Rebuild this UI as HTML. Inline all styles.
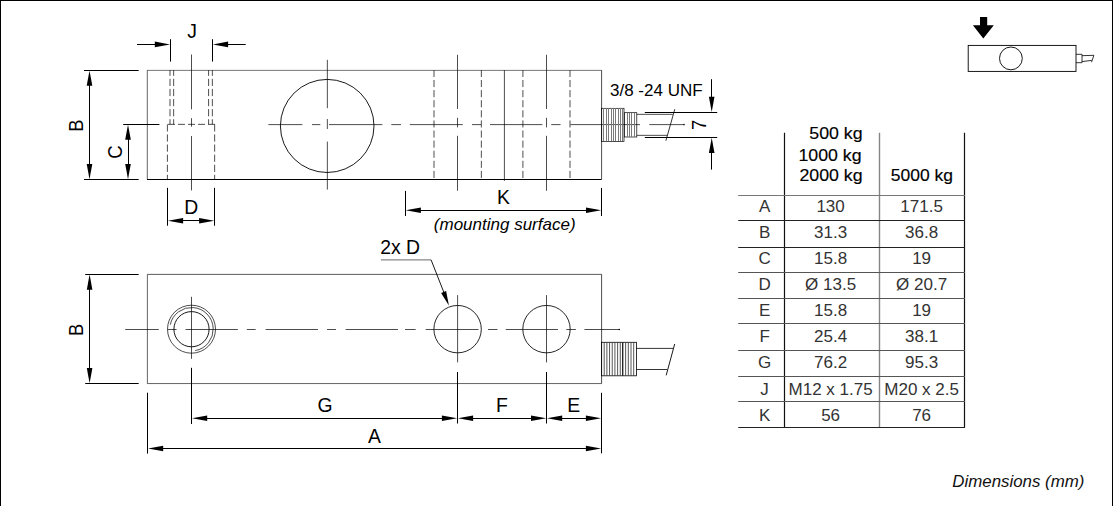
<!DOCTYPE html>
<html lang="en">
<head>
<meta charset="utf-8">
<title>Load cell dimensions</title>
<style>
html,body{margin:0;padding:0;background:#fff;}
body{width:1113px;height:506px;overflow:hidden;}
svg{display:block;font-family:"Liberation Sans",Arial,Helvetica,sans-serif;}
</style>
</head>
<body>
<svg width="1113" height="506" viewBox="0 0 1113 506">
<rect x="0" y="0" width="1113" height="1" fill="#000"/>
<rect x="0" y="0" width="1" height="506" fill="#000"/>
<rect x="1112" y="0" width="1" height="506" fill="#000"/>
<line x1="147.0" y1="70.4" x2="601.6" y2="70.4" stroke="#555" stroke-width="0.8"/>
<line x1="147.3" y1="70.2" x2="147.3" y2="179.4" stroke="#555" stroke-width="0.9"/>
<line x1="601.6" y1="70.2" x2="601.6" y2="179.4" stroke="#000" stroke-width="0.7"/>
<line x1="147.0" y1="179.5" x2="601.6" y2="179.5" stroke="#000" stroke-width="1.0"/>
<line x1="170.0" y1="70.2" x2="170.0" y2="124.3" stroke="#000" stroke-width="0.7" stroke-dasharray="7.2 2.9" stroke-dashoffset="1.5"/>
<line x1="173.65" y1="70.2" x2="173.65" y2="124.3" stroke="#000" stroke-width="0.7" stroke-dasharray="7.2 2.9" stroke-dashoffset="1.5"/>
<line x1="208.6" y1="70.2" x2="208.6" y2="124.3" stroke="#000" stroke-width="0.7" stroke-dasharray="7.2 2.9" stroke-dashoffset="1.5"/>
<line x1="212.35" y1="70.2" x2="212.35" y2="124.3" stroke="#000" stroke-width="0.7" stroke-dasharray="7.2 2.9" stroke-dashoffset="1.5"/>
<line x1="167.4" y1="124.3" x2="167.4" y2="179.4" stroke="#000" stroke-width="0.7" stroke-dasharray="7.2 2.9"/>
<line x1="214.65" y1="124.3" x2="214.65" y2="179.4" stroke="#000" stroke-width="0.7" stroke-dasharray="7.2 2.9"/>
<line x1="167.4" y1="124.35" x2="214.8" y2="124.35" stroke="#000" stroke-width="0.7" stroke-dasharray="7.0 3.0" stroke-dashoffset="9.4"/>
<line x1="191.5" y1="54.5" x2="191.5" y2="109.3" stroke="#000" stroke-width="0.7"/>
<line x1="191.5" y1="118.2" x2="191.5" y2="126.7" stroke="#000" stroke-width="0.7"/>
<line x1="191.5" y1="136.0" x2="191.5" y2="190.4" stroke="#000" stroke-width="0.7"/>
<ellipse cx="327.2" cy="125.95" rx="46.8" ry="46.55" fill="none" stroke="#000" stroke-width="0.9"/>
<line x1="327.35" y1="59.8" x2="327.35" y2="108.2" stroke="#000" stroke-width="0.7"/>
<line x1="327.35" y1="119" x2="327.35" y2="129" stroke="#000" stroke-width="0.7"/>
<line x1="327.35" y1="141.6" x2="327.35" y2="189.6" stroke="#000" stroke-width="0.7"/>
<line x1="268.4" y1="124.6" x2="302.4" y2="124.6" stroke="#000" stroke-width="0.7"/>
<line x1="312" y1="124.6" x2="320.3" y2="124.6" stroke="#000" stroke-width="0.7"/>
<line x1="329" y1="124.6" x2="382.4" y2="124.6" stroke="#000" stroke-width="0.7"/>
<line x1="391.3" y1="124.6" x2="401" y2="124.6" stroke="#000" stroke-width="0.7"/>
<line x1="409.8" y1="124.6" x2="462.8" y2="124.6" stroke="#000" stroke-width="0.7"/>
<line x1="472" y1="124.6" x2="481" y2="124.6" stroke="#000" stroke-width="0.7"/>
<line x1="490" y1="124.6" x2="542.4" y2="124.6" stroke="#000" stroke-width="0.7"/>
<line x1="551.2" y1="124.6" x2="560.5" y2="124.6" stroke="#000" stroke-width="0.7"/>
<line x1="570.4" y1="124.6" x2="640" y2="124.6" stroke="#000" stroke-width="0.7"/>
<line x1="649.3" y1="124.6" x2="683.6" y2="124.6" stroke="#000" stroke-width="0.7"/>
<line x1="434.0" y1="70.2" x2="434.0" y2="179.4" stroke="#000" stroke-width="0.7" stroke-dasharray="7.1 3.0" stroke-dashoffset="0.3"/>
<line x1="481.35" y1="70.2" x2="481.35" y2="179.4" stroke="#000" stroke-width="0.7" stroke-dasharray="7.1 3.0" stroke-dashoffset="0.3"/>
<line x1="522.9" y1="70.2" x2="522.9" y2="179.4" stroke="#000" stroke-width="0.7" stroke-dasharray="7.1 3.0" stroke-dashoffset="0.3"/>
<line x1="570.0" y1="70.2" x2="570.0" y2="179.4" stroke="#000" stroke-width="0.7" stroke-dasharray="7.1 3.0" stroke-dashoffset="0.3"/>
<line x1="504.4" y1="70.2" x2="504.4" y2="180.8" stroke="#000" stroke-width="0.7"/>
<line x1="457.5" y1="54.8" x2="457.5" y2="109.0" stroke="#000" stroke-width="0.7"/>
<line x1="457.5" y1="117.8" x2="457.5" y2="127.4" stroke="#000" stroke-width="0.7"/>
<line x1="457.5" y1="135.8" x2="457.5" y2="190.8" stroke="#000" stroke-width="0.7"/>
<line x1="546.5" y1="54.8" x2="546.5" y2="109.0" stroke="#000" stroke-width="0.7"/>
<line x1="546.5" y1="117.8" x2="546.5" y2="127.4" stroke="#000" stroke-width="0.7"/>
<line x1="546.5" y1="135.8" x2="546.5" y2="190.8" stroke="#000" stroke-width="0.7"/>
<circle cx="684.0" cy="124.6" r="0.8" fill="#000"/>
<rect x="601.6" y="108.3" width="22.40" height="33.10" fill="none" stroke="#000" stroke-width="0.7"/>
<line x1="603.5" y1="108.3" x2="603.5" y2="141.4" stroke="#7a7a7a" stroke-width="1" shape-rendering="crispEdges"/>
<line x1="606.5" y1="108.3" x2="606.5" y2="141.4" stroke="#7a7a7a" stroke-width="1" shape-rendering="crispEdges"/>
<line x1="608.5" y1="108.3" x2="608.5" y2="141.4" stroke="#7a7a7a" stroke-width="1" shape-rendering="crispEdges"/>
<line x1="611.5" y1="108.3" x2="611.5" y2="141.4" stroke="#7a7a7a" stroke-width="1" shape-rendering="crispEdges"/>
<line x1="613.5" y1="108.3" x2="613.5" y2="141.4" stroke="#7a7a7a" stroke-width="1" shape-rendering="crispEdges"/>
<line x1="615.5" y1="108.3" x2="615.5" y2="141.4" stroke="#7a7a7a" stroke-width="1" shape-rendering="crispEdges"/>
<line x1="618.5" y1="108.3" x2="618.5" y2="141.4" stroke="#7a7a7a" stroke-width="1" shape-rendering="crispEdges"/>
<line x1="620.5" y1="108.3" x2="620.5" y2="141.4" stroke="#7a7a7a" stroke-width="1" shape-rendering="crispEdges"/>
<line x1="622.5" y1="108.3" x2="622.5" y2="141.4" stroke="#7a7a7a" stroke-width="1" shape-rendering="crispEdges"/>
<rect x="624.6" y="112.7" width="12.20" height="24.30" fill="none" stroke="#000" stroke-width="0.7"/>
<line x1="627.5" y1="112.7" x2="627.5" y2="137.0" stroke="#7a7a7a" stroke-width="1" shape-rendering="crispEdges"/>
<line x1="629.5" y1="112.7" x2="629.5" y2="137.0" stroke="#7a7a7a" stroke-width="1" shape-rendering="crispEdges"/>
<line x1="631.5" y1="112.7" x2="631.5" y2="137.0" stroke="#7a7a7a" stroke-width="1" shape-rendering="crispEdges"/>
<line x1="634.5" y1="112.7" x2="634.5" y2="137.0" stroke="#7a7a7a" stroke-width="1" shape-rendering="crispEdges"/>
<line x1="636.8" y1="114.35" x2="672.8" y2="114.35" stroke="#000" stroke-width="0.7"/>
<line x1="636.8" y1="135.35" x2="667.4" y2="135.35" stroke="#000" stroke-width="0.7"/>
<line x1="674.8" y1="109.2" x2="665.9" y2="140.7" stroke="#000" stroke-width="0.8"/>
<line x1="644.8" y1="112.5" x2="717.2" y2="112.5" stroke="#000" stroke-width="1.05"/>
<line x1="644.8" y1="137.5" x2="717.2" y2="137.5" stroke="#000" stroke-width="1.05"/>
<line x1="711.5" y1="79.2" x2="711.5" y2="100" stroke="#000" stroke-width="1.05"/>
<polygon points="711.70,112.00 708.90,96.80 714.50,96.80" fill="#000"/>
<line x1="711.5" y1="150" x2="711.5" y2="169.6" stroke="#000" stroke-width="1.05"/>
<polygon points="711.70,137.70 714.50,152.90 708.90,152.90" fill="#000"/>
<text transform="translate(705.6 124.9) rotate(-90) scale(0.93 1)" text-anchor="middle" font-size="19.9" fill="#000">7</text>
<text transform="translate(610.0 96.0)" text-anchor="start" font-size="17" fill="#000">3/8 -24 UNF</text>
<line x1="170.5" y1="39.2" x2="170.5" y2="61.6" stroke="#000" stroke-width="1.05"/>
<line x1="212.5" y1="39.2" x2="212.5" y2="61.6" stroke="#000" stroke-width="1.05"/>
<line x1="137" y1="44.5" x2="157" y2="44.5" stroke="#000" stroke-width="1.05"/>
<polygon points="170.00,44.40 154.80,47.20 154.80,41.60" fill="#000"/>
<line x1="226" y1="44.5" x2="245.7" y2="44.5" stroke="#000" stroke-width="1.05"/>
<polygon points="212.90,44.40 228.10,41.60 228.10,47.20" fill="#000"/>
<text transform="translate(192.1 37.7) scale(0.955 1)" text-anchor="middle" font-size="20.3" fill="#000">J</text>
<line x1="84" y1="70.5" x2="138.7" y2="70.5" stroke="#000" stroke-width="1.05"/>
<line x1="84" y1="179.5" x2="138.7" y2="179.5" stroke="#000" stroke-width="1.05"/>
<line x1="89.5" y1="84" x2="89.5" y2="166" stroke="#000" stroke-width="1.05"/>
<polygon points="89.50,70.60 92.30,85.80 86.70,85.80" fill="#000"/>
<polygon points="89.50,179.20 86.70,164.00 92.30,164.00" fill="#000"/>
<text transform="translate(83.4 125.5) rotate(-90) scale(0.93 1)" text-anchor="middle" font-size="19.9" fill="#000">B</text>
<line x1="123.2" y1="124.5" x2="159.4" y2="124.5" stroke="#000" stroke-width="1.05"/>
<line x1="128.5" y1="138" x2="128.5" y2="166" stroke="#000" stroke-width="1.05"/>
<polygon points="128.00,124.60 130.80,139.80 125.20,139.80" fill="#000"/>
<polygon points="128.00,179.20 125.20,164.00 130.80,164.00" fill="#000"/>
<text transform="translate(121.6 152.1) rotate(-90) scale(0.93 1)" text-anchor="middle" font-size="19.9" fill="#000">C</text>
<line x1="167.5" y1="187.8" x2="167.5" y2="225.7" stroke="#000" stroke-width="1.05"/>
<line x1="214.5" y1="187.8" x2="214.5" y2="225.7" stroke="#000" stroke-width="1.05"/>
<line x1="180" y1="220.5" x2="202" y2="220.5" stroke="#000" stroke-width="1.05"/>
<polygon points="167.90,220.80 183.10,218.00 183.10,223.60" fill="#000"/>
<polygon points="214.30,220.80 199.10,223.60 199.10,218.00" fill="#000"/>
<text transform="translate(191.3 213.9) scale(0.955 1)" text-anchor="middle" font-size="20.3" fill="#000">D</text>
<line x1="405.5" y1="190.9" x2="405.5" y2="216" stroke="#000" stroke-width="1.05"/>
<line x1="601.5" y1="187.9" x2="601.5" y2="216" stroke="#000" stroke-width="1.05"/>
<line x1="418" y1="210.5" x2="589" y2="210.5" stroke="#000" stroke-width="1.05"/>
<polygon points="405.70,210.20 420.90,207.40 420.90,213.00" fill="#000"/>
<polygon points="601.20,210.20 586.00,213.00 586.00,207.40" fill="#000"/>
<text transform="translate(503.4 204.0) scale(0.955 1)" text-anchor="middle" font-size="20.3" fill="#000">K</text>
<text transform="translate(504.7 229.6)" text-anchor="middle" font-size="17" font-style="italic" fill="#000">(mounting surface)</text>
<line x1="147.3" y1="274.4" x2="601.6" y2="274.4" stroke="#333" stroke-width="0.8"/>
<line x1="147.4" y1="274.3" x2="147.4" y2="383.8" stroke="#555" stroke-width="0.9"/>
<line x1="601.6" y1="274.3" x2="601.6" y2="383.8" stroke="#000" stroke-width="0.7"/>
<line x1="147.3" y1="383.55" x2="601.6" y2="383.55" stroke="#555" stroke-width="0.9"/>
<circle cx="191.5" cy="329.2" r="24.0" fill="none" stroke="#000" stroke-width="0.7"/>
<circle cx="191.5" cy="329.2" r="17.6" fill="none" stroke="#000" stroke-width="0.9"/>
<path d="M170.27,324.69 A21.7,21.7 0 1 1 195.27,350.57" fill="none" stroke="#000" stroke-width="0.7"/>
<line x1="191.5" y1="296.8" x2="191.5" y2="358.8" stroke="#000" stroke-width="0.7"/>
<circle cx="457.6" cy="329.15" r="23.7" fill="none" stroke="#000" stroke-width="0.85"/>
<line x1="457.6" y1="295.1" x2="457.6" y2="362.4" stroke="#000" stroke-width="0.7"/>
<circle cx="546.5" cy="329.15" r="23.7" fill="none" stroke="#000" stroke-width="0.85"/>
<line x1="546.5" y1="295.1" x2="546.5" y2="362.4" stroke="#000" stroke-width="0.7"/>
<line x1="125.2" y1="329.5" x2="158.8" y2="329.5" stroke="#000" stroke-width="0.7"/>
<line x1="167.7" y1="329.5" x2="176.6" y2="329.5" stroke="#000" stroke-width="0.7"/>
<line x1="185.5" y1="329.5" x2="237.9" y2="329.5" stroke="#000" stroke-width="0.7"/>
<line x1="246.8" y1="329.5" x2="255.7" y2="329.5" stroke="#000" stroke-width="0.7"/>
<line x1="265.6" y1="329.5" x2="318" y2="329.5" stroke="#000" stroke-width="0.7"/>
<line x1="327" y1="329.5" x2="336" y2="329.5" stroke="#000" stroke-width="0.7"/>
<line x1="345.6" y1="329.5" x2="398" y2="329.5" stroke="#000" stroke-width="0.7"/>
<line x1="405" y1="329.5" x2="415.7" y2="329.5" stroke="#000" stroke-width="0.7"/>
<line x1="425.7" y1="329.5" x2="478.5" y2="329.5" stroke="#000" stroke-width="0.7"/>
<line x1="488" y1="329.5" x2="497.5" y2="329.5" stroke="#000" stroke-width="0.7"/>
<line x1="505.8" y1="329.5" x2="558" y2="329.5" stroke="#000" stroke-width="0.7"/>
<line x1="566.3" y1="329.5" x2="575.9" y2="329.5" stroke="#000" stroke-width="0.7"/>
<line x1="584.4" y1="329.5" x2="619.2" y2="329.5" stroke="#000" stroke-width="0.7"/>
<circle cx="619.2" cy="329.5" r="0.8" fill="#000"/>
<rect x="601.6" y="342.3" width="34.90" height="33.50" fill="none" stroke="#000" stroke-width="0.8"/>
<line x1="604.2" y1="342.3" x2="604.2" y2="375.8" stroke="#3a3a3a" stroke-width="0.85"/>
<line x1="606.88" y1="342.3" x2="606.88" y2="375.8" stroke="#3a3a3a" stroke-width="0.85"/>
<line x1="609.56" y1="342.3" x2="609.56" y2="375.8" stroke="#3a3a3a" stroke-width="0.85"/>
<line x1="612.24" y1="342.3" x2="612.24" y2="375.8" stroke="#3a3a3a" stroke-width="0.85"/>
<line x1="614.92" y1="342.3" x2="614.92" y2="375.8" stroke="#3a3a3a" stroke-width="0.85"/>
<line x1="617.6" y1="342.3" x2="617.6" y2="375.8" stroke="#3a3a3a" stroke-width="0.85"/>
<line x1="620.28" y1="342.3" x2="620.28" y2="375.8" stroke="#3a3a3a" stroke-width="0.85"/>
<line x1="622.96" y1="342.3" x2="622.96" y2="375.8" stroke="#3a3a3a" stroke-width="0.85"/>
<line x1="625.64" y1="342.3" x2="625.64" y2="375.8" stroke="#3a3a3a" stroke-width="0.85"/>
<line x1="628.32" y1="342.3" x2="628.32" y2="375.8" stroke="#3a3a3a" stroke-width="0.85"/>
<line x1="631.0" y1="342.3" x2="631.0" y2="375.8" stroke="#3a3a3a" stroke-width="0.85"/>
<line x1="633.68" y1="342.3" x2="633.68" y2="375.8" stroke="#3a3a3a" stroke-width="0.85"/>
<line x1="622.55" y1="342.3" x2="622.55" y2="375.8" stroke="#111" stroke-width="0.9"/>
<line x1="636.5" y1="348.4" x2="673" y2="348.4" stroke="#000" stroke-width="0.8"/>
<line x1="636.5" y1="369.5" x2="667.2" y2="369.5" stroke="#000" stroke-width="0.8"/>
<line x1="674.7" y1="344.0" x2="666.2" y2="375.3" stroke="#000" stroke-width="0.9"/>
<text transform="translate(380.2 253.6) scale(0.955 1)" text-anchor="start" font-size="20.3" fill="#000">2x D</text>
<line x1="380.9" y1="259.9" x2="431.1" y2="259.9" stroke="#444" stroke-width="0.8"/>
<line x1="431.1" y1="259.9" x2="445.5" y2="296.5" stroke="#000" stroke-width="0.9"/>
<polygon points="448.90,305.40 441.10,292.88 446.13,290.91" fill="#000"/>
<line x1="85.2" y1="274.5" x2="138.7" y2="274.5" stroke="#000" stroke-width="1.05"/>
<line x1="85.2" y1="383.5" x2="138.7" y2="383.5" stroke="#000" stroke-width="1.05"/>
<line x1="89.5" y1="288" x2="89.5" y2="370" stroke="#000" stroke-width="1.05"/>
<polygon points="89.60,274.50 92.40,289.70 86.80,289.70" fill="#000"/>
<polygon points="89.60,383.30 86.80,368.10 92.40,368.10" fill="#000"/>
<text transform="translate(83.4 329.8) rotate(-90) scale(0.93 1)" text-anchor="middle" font-size="19.9" fill="#000">B</text>
<line x1="191.5" y1="367.8" x2="191.5" y2="424" stroke="#000" stroke-width="1.05"/>
<line x1="457.5" y1="372" x2="457.5" y2="423.5" stroke="#000" stroke-width="1.05"/>
<line x1="546.5" y1="372" x2="546.5" y2="423.5" stroke="#000" stroke-width="1.05"/>
<line x1="601.5" y1="392.8" x2="601.5" y2="453.3" stroke="#000" stroke-width="1.05"/>
<line x1="147.5" y1="392.7" x2="147.5" y2="453.6" stroke="#000" stroke-width="1.05"/>
<line x1="205" y1="418.5" x2="444" y2="418.5" stroke="#000" stroke-width="1.05"/>
<polygon points="192.00,418.20 207.20,415.40 207.20,421.00" fill="#000"/>
<polygon points="457.10,418.20 441.90,421.00 441.90,415.40" fill="#000"/>
<line x1="470" y1="418.5" x2="534" y2="418.5" stroke="#000" stroke-width="1.05"/>
<polygon points="457.90,418.20 473.10,415.40 473.10,421.00" fill="#000"/>
<polygon points="546.20,418.20 531.00,421.00 531.00,415.40" fill="#000"/>
<line x1="559" y1="418.5" x2="589" y2="418.5" stroke="#000" stroke-width="1.05"/>
<polygon points="547.00,418.20 562.20,415.40 562.20,421.00" fill="#000"/>
<polygon points="601.10,418.20 585.90,421.00 585.90,415.40" fill="#000"/>
<line x1="160" y1="448.5" x2="589" y2="448.5" stroke="#000" stroke-width="1.05"/>
<polygon points="148.00,448.50 163.20,445.70 163.20,451.30" fill="#000"/>
<polygon points="601.10,448.50 585.90,451.30 585.90,445.70" fill="#000"/>
<text transform="translate(325.0 411.6) scale(0.955 1)" text-anchor="middle" font-size="20.3" fill="#000">G</text>
<text transform="translate(502.0 411.6) scale(0.955 1)" text-anchor="middle" font-size="20.3" fill="#000">F</text>
<text transform="translate(573.8 411.6) scale(0.955 1)" text-anchor="middle" font-size="20.3" fill="#000">E</text>
<text transform="translate(374.4 443.0) scale(0.955 1)" text-anchor="middle" font-size="20.3" fill="#000">A</text>
<line x1="784.5" y1="132.8" x2="784.5" y2="427.7" stroke="#111" stroke-width="1.2"/>
<line x1="879.5" y1="132.8" x2="879.5" y2="427.2" stroke="#858585" stroke-width="1.4"/>
<line x1="964.5" y1="132.8" x2="964.5" y2="427.7" stroke="#111" stroke-width="1.2"/>
<line x1="738.2" y1="195.5" x2="965" y2="195.5" stroke="#777" stroke-width="1.15"/>
<line x1="738.2" y1="220.5" x2="965" y2="220.5" stroke="#222" stroke-width="1.15"/>
<line x1="738.2" y1="247.5" x2="965" y2="247.5" stroke="#222" stroke-width="1.15"/>
<line x1="738.2" y1="272.5" x2="965" y2="272.5" stroke="#555" stroke-width="1.15"/>
<line x1="738.2" y1="298.5" x2="965" y2="298.5" stroke="#555" stroke-width="1.15"/>
<line x1="738.2" y1="323.5" x2="965" y2="323.5" stroke="#555" stroke-width="1.15"/>
<line x1="738.2" y1="350.5" x2="965" y2="350.5" stroke="#555" stroke-width="1.15"/>
<line x1="738.2" y1="376.5" x2="965" y2="376.5" stroke="#555" stroke-width="1.15"/>
<line x1="738.2" y1="401.5" x2="965" y2="401.5" stroke="#555" stroke-width="1.15"/>
<line x1="738.2" y1="427.5" x2="965" y2="427.5" stroke="#222" stroke-width="1.15"/>
<text transform="translate(764.6 211.7)" text-anchor="middle" font-size="17" fill="#333">A</text>
<text transform="translate(830.6 211.7)" text-anchor="middle" font-size="17" fill="#333">130</text>
<text transform="translate(921.6 211.7)" text-anchor="middle" font-size="17" fill="#333">171.5</text>
<text transform="translate(764.6 237.8)" text-anchor="middle" font-size="17" fill="#333">B</text>
<text transform="translate(830.6 237.8)" text-anchor="middle" font-size="17" fill="#333">31.3</text>
<text transform="translate(921.6 237.8)" text-anchor="middle" font-size="17" fill="#333">36.8</text>
<text transform="translate(764.6 263.9)" text-anchor="middle" font-size="17" fill="#333">C</text>
<text transform="translate(830.6 263.9)" text-anchor="middle" font-size="17" fill="#333">15.8</text>
<text transform="translate(921.6 263.9)" text-anchor="middle" font-size="17" fill="#333">19</text>
<text transform="translate(764.6 290.0)" text-anchor="middle" font-size="17" fill="#333">D</text>
<text transform="translate(830.6 290.0)" text-anchor="middle" font-size="17" fill="#333">Ø 13.5</text>
<text transform="translate(921.6 290.0)" text-anchor="middle" font-size="17" fill="#333">Ø 20.7</text>
<text transform="translate(764.6 316.1)" text-anchor="middle" font-size="17" fill="#333">E</text>
<text transform="translate(830.6 316.1)" text-anchor="middle" font-size="17" fill="#333">15.8</text>
<text transform="translate(921.6 316.1)" text-anchor="middle" font-size="17" fill="#333">19</text>
<text transform="translate(764.6 342.2)" text-anchor="middle" font-size="17" fill="#333">F</text>
<text transform="translate(830.6 342.2)" text-anchor="middle" font-size="17" fill="#333">25.4</text>
<text transform="translate(921.6 342.2)" text-anchor="middle" font-size="17" fill="#333">38.1</text>
<text transform="translate(764.6 368.4)" text-anchor="middle" font-size="17" fill="#333">G</text>
<text transform="translate(830.6 368.4)" text-anchor="middle" font-size="17" fill="#333">76.2</text>
<text transform="translate(921.6 368.4)" text-anchor="middle" font-size="17" fill="#333">95.3</text>
<text transform="translate(764.6 394.5)" text-anchor="middle" font-size="17" fill="#333">J</text>
<text transform="translate(830.6 394.5)" text-anchor="middle" font-size="17" fill="#333">M12 x 1.75</text>
<text transform="translate(921.6 394.5)" text-anchor="middle" font-size="17" fill="#333">M20 x 2.5</text>
<text transform="translate(764.6 420.6)" text-anchor="middle" font-size="17" fill="#333">K</text>
<text transform="translate(830.6 420.6)" text-anchor="middle" font-size="17" fill="#333">56</text>
<text transform="translate(921.6 420.6)" text-anchor="middle" font-size="17" fill="#333">76</text>
<text transform="translate(862.6 138.9) scale(1.045 1)" text-anchor="end" font-size="17" fill="#000" stroke="#000" stroke-width="0.15">500 kg</text>
<text transform="translate(861.6 160.6) scale(1.045 1)" text-anchor="end" font-size="17" fill="#000" stroke="#000" stroke-width="0.15">1000 kg</text>
<text transform="translate(862.6 181.1) scale(1.045 1)" text-anchor="end" font-size="17" fill="#000" stroke="#000" stroke-width="0.15">2000 kg</text>
<text transform="translate(953.0 181.1) scale(1.03 1)" text-anchor="end" font-size="17" fill="#000" stroke="#000" stroke-width="0.15">5000 kg</text>
<polygon points="980,16.9 987.2,16.9 987.2,25.2 993.8,25.2 983.3,38.6 972.9,25.2 980,25.2" fill="#000"/>
<rect x="968.2" y="45.4" width="107.80" height="26.00" fill="none" stroke="#000" stroke-width="0.9"/>
<circle cx="1010.9" cy="58.4" r="11.4" fill="none" stroke="#000" stroke-width="0.9"/>
<path d="M1076,54.3 H1082 V62.7 H1076 M1082,55.7 L1093.9,55.3 L1091.5,62.2 M1082,61.6 L1091.7,60.4" fill="none" stroke="#000" stroke-width="0.8"/>
<text transform="translate(1084.4 487.2) scale(0.992 1)" text-anchor="end" font-size="17" font-style="italic" fill="#111">Dimensions (mm)</text>
</svg>
</body>
</html>
